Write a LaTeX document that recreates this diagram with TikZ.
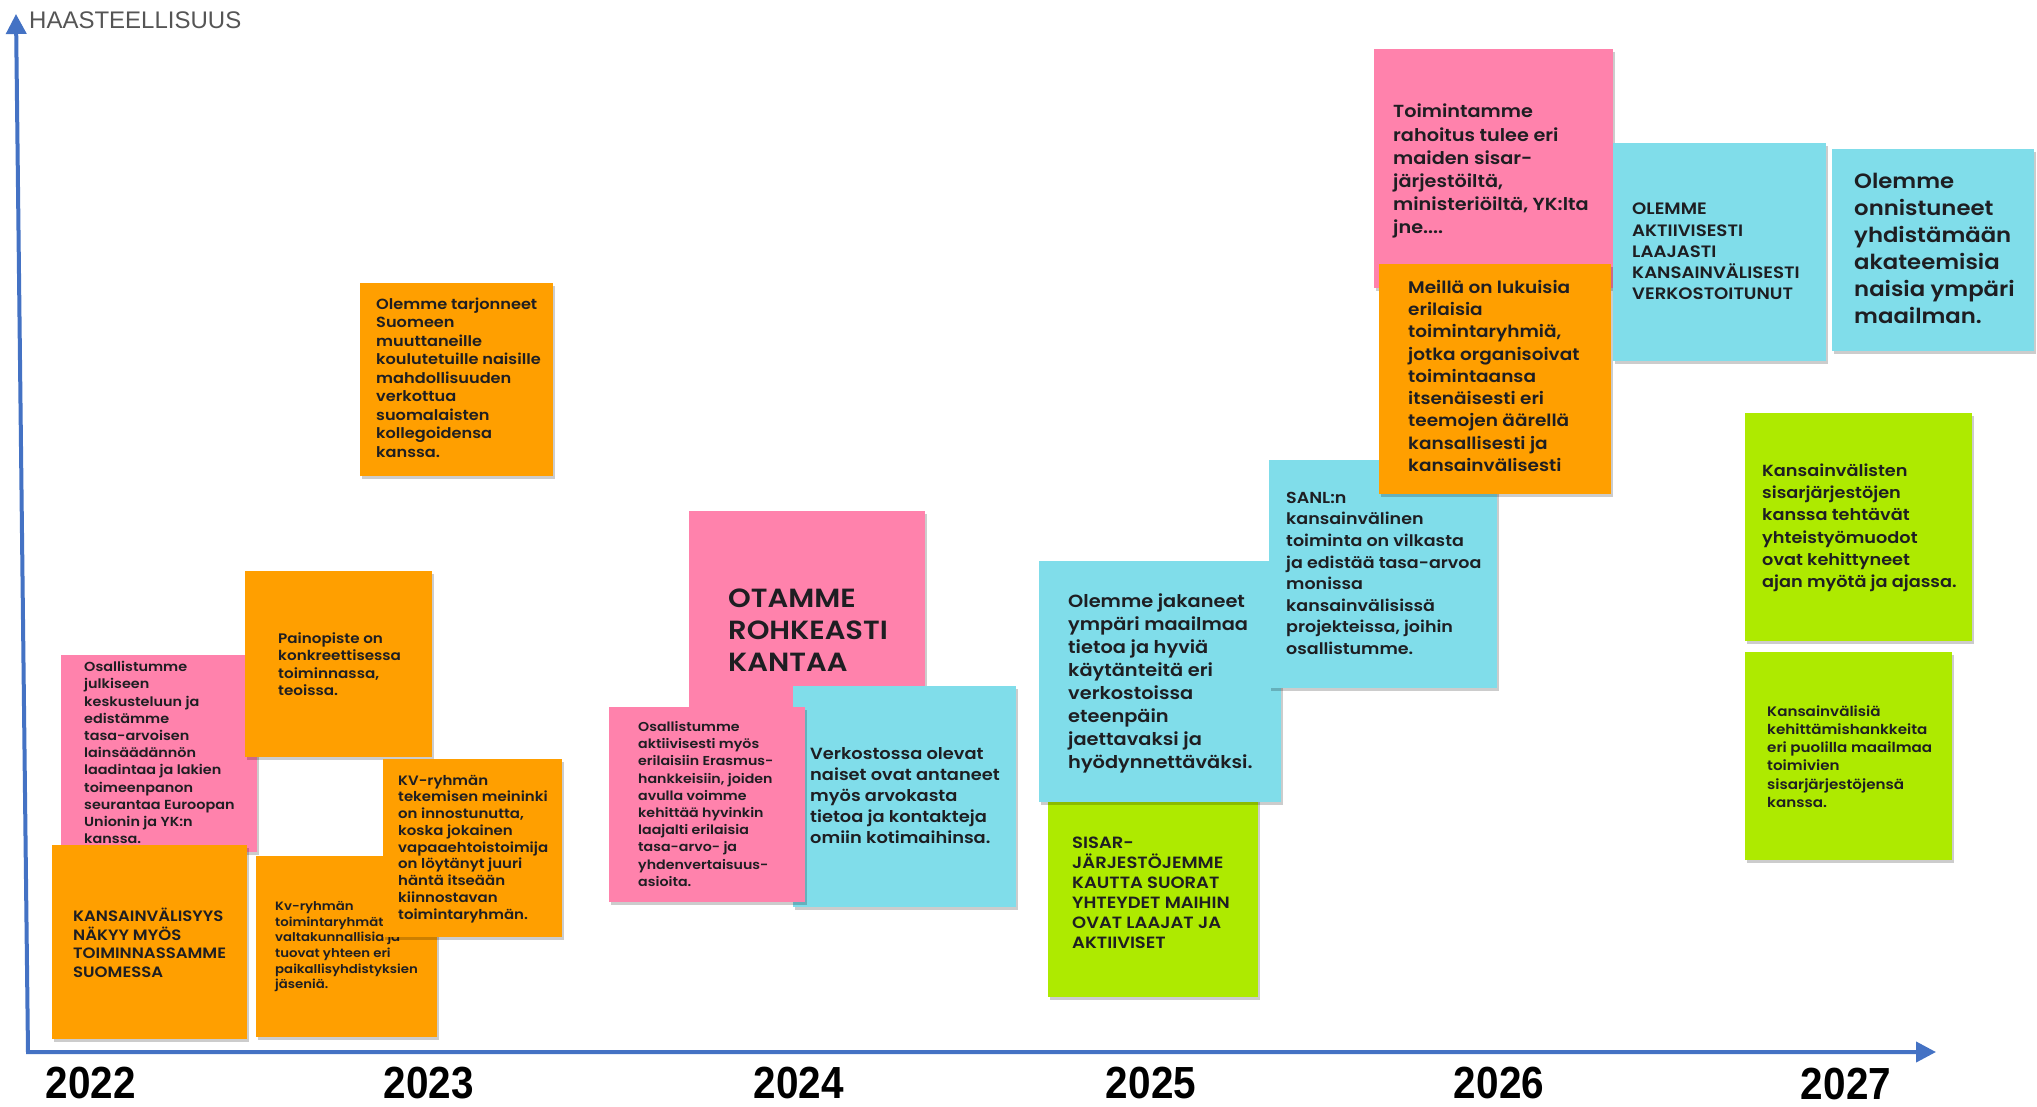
\documentclass[tikz,border=0pt]{standalone}
\usepackage{fontspec}
\usepackage{graphicx}
\usetikzlibrary{shadows,arrows.meta}
\setmainfont{Liberation Sans}
\newfontfamily\geo{Poppins SemiBold}[FakeStretch=1.1]
\definecolor{pinkc}{HTML}{FF82AC}
\definecolor{orangec}{HTML}{FF9F00}
\definecolor{cyanc}{HTML}{80DDEA}
\definecolor{greenc}{HTML}{AEEA00}
\definecolor{axisc}{HTML}{4472C4}
\definecolor{txtc}{HTML}{1E1E22}
\definecolor{graytxt}{HTML}{555555}
\newcommand\firstl{\rule{0pt}{0.95em}}
\tikzset{
  stick/.style={anchor=north west, inner sep=0pt, draw=none,
    drop shadow={shadow xshift=2pt, shadow yshift=-3pt, opacity=0.2, fill=black}},
  stxt/.style={anchor=north west, inner sep=0pt, align=left, text=txtc},
  axisline/.style={draw=axisc, line width=4pt, line join=miter},
  yearlbl/.style={anchor=base, inner sep=0pt, text=black,
    font=\fontsize{45}{45}\selectfont\bfseries},
}
\begin{document}
\begin{tikzpicture}[x=1pt,y=-1pt]
\useasboundingbox[fill=white] (0,0) rectangle (2037,1106);

% axes
\coordinate (ytop) at (16,14);
\coordinate (orig) at (28,1052);
\coordinate (xend) at (1936,1052);
\draw[axisline, {Triangle[length=20pt,width=20pt]}-{Triangle[length=20pt,width=20pt]}]
  (ytop) -- (orig) -- (xend);
\node[anchor=base west, inner sep=0pt, text=graytxt, font=\fontsize{24}{24}\selectfont]
  (ylab) at (29,28) {HAASTEELLISUUS};

% years
\node[yearlbl] (y2022) at (91,1098) {\scalebox{0.9}[1]{2022}};
\node[yearlbl] (y2023) at (429,1098) {\scalebox{0.9}[1]{2023}};
\node[yearlbl] (y2024) at (799,1098) {\scalebox{0.9}[1]{2024}};
\node[yearlbl] (y2025) at (1151,1098) {\scalebox{0.9}[1]{2025}};
\node[yearlbl] (y2026) at (1499,1098) {\scalebox{0.9}[1]{2026}};
\node[yearlbl] (y2027) at (1846,1099) {\scalebox{0.9}[1]{2027}};

% ---- 2022 / 2023 cluster
\node[stick, fill=pinkc, minimum width=196pt, minimum height=197pt] (bA) at (61,655) {};
\node[stxt, font=\geo\fontsize{13.1}{17.2}\selectfont] (tA) at (84,659)
  {\firstl Osallistumme\\julkiseen\\keskusteluun ja\\edistämme\\tasa-arvoisen\\lainsäädännön\\laadintaa ja lakien\\toimeenpanon\\seurantaa Euroopan\\Unionin ja YK:n\\kanssa.};

\node[stick, fill=orangec, minimum width=187pt, minimum height=186pt] (bB) at (245,571) {};
\node[stxt, font=\geo\fontsize{13.8}{17.5}\selectfont] (tB) at (278,630)
  {\firstl Painopiste on\\konkreettisessa\\toiminnassa,\\teoissa.};

\node[stick, fill=orangec, minimum width=195pt, minimum height=194pt] (bE) at (52,845) {};
\node[stxt, font=\geo\fontsize{15}{18.7}\selectfont] (tE) at (73,907)
  {\firstl KANSAINVÄLISYYS\\NÄKYY MYÖS\\TOIMINNASSAMME\\SUOMESSA};

\node[stick, fill=orangec, minimum width=181pt, minimum height=181pt] (bC) at (256,856) {};
\node[stxt, font=\geo\fontsize{12.1}{15.6}\selectfont] (tC) at (275,899)
  {\firstl Kv-ryhmän\\toimintaryhmät ovat\\valtakunnallisia ja\\tuovat yhteen eri\\paikallisyhdistyksien\\jäseniä.};

\node[stick, fill=orangec, minimum width=179pt, minimum height=178pt] (bD) at (383,759) {};
\node[stxt, font=\geo\fontsize{13.6}{16.75}\selectfont] (tD) at (398,772)
  {\firstl KV-ryhmän\\tekemisen meininki\\on innostunutta,\\koska jokainen\\vapaaehtoistoimija\\on löytänyt juuri\\häntä itseään\\kiinnostavan\\toimintaryhmän.};

\node[stick, fill=orangec, minimum width=193pt, minimum height=193pt] (bF) at (360,283) {};
\node[stxt, font=\geo\fontsize{14.7}{18.5}\selectfont] (tF) at (376,295)
  {\firstl Olemme tarjonneet\\Suomeen\\muuttaneille\\koulutetuille naisille\\mahdollisuuden\\verkottua\\suomalaisten\\kollegoidensa\\kanssa.};

% ---- 2024 cluster
\node[stick, fill=pinkc, minimum width=236pt, minimum height=234pt] (bG) at (689,511) {};
\node[stxt, font=\geo\fontsize{26.3}{32}\selectfont] (tG) at (728,582)
  {\firstl OTAMME\\ROHKEASTI\\KANTAA};

\node[stick, fill=cyanc, minimum width=223pt, minimum height=221pt] (bI) at (793,686) {};
\node[stxt, font=\geo\fontsize{16.2}{21}\selectfont] (tI) at (810,744)
  {\firstl Verkostossa olevat\\naiset ovat antaneet\\myös arvokasta\\tietoa ja kontakteja\\omiin kotimaihinsa.};

\node[stick, fill=pinkc, minimum width=196pt, minimum height=195pt] (bH) at (609,707) {};
\node[stxt, font=\geo\fontsize{12.9}{17.2}\selectfont] (tH) at (638,719)
  {\firstl Osallistumme\\aktiivisesti myös\\erilaisiin Erasmus-\\hankkeisiin, joiden\\avulla voimme\\kehittää hyvinkin\\laajalti erilaisia\\tasa-arvo- ja\\yhdenvertaisuus-\\asioita.};

% ---- 2025 / 2026 cluster
\node[stick, fill=greenc, minimum width=210pt, minimum height=207pt] (bK) at (1048,790) {};
\node[stxt, font=\geo\fontsize{16.3}{20}\selectfont] (tK) at (1072,833)
  {\firstl SISAR-\\JÄRJESTÖJEMME\\KAUTTA SUORAT\\YHTEYDET MAIHIN\\OVAT LAAJAT JA\\AKTIIVISET};

\node[stick, fill=cyanc, minimum width=242pt, minimum height=241pt] (bJ) at (1039,561) {};
\node[stxt, font=\geo\fontsize{17.6}{22.9}\selectfont] (tJ) at (1068,591)
  {\firstl Olemme jakaneet\\ympäri maailmaa\\tietoa ja hyviä\\käytänteitä eri\\verkostoissa\\eteenpäin\\jaettavaksi ja\\hyödynnettäväksi.};

\node[stick, fill=cyanc, minimum width=228pt, minimum height=228pt] (bL) at (1269,460) {};
\node[stxt, font=\geo\fontsize{15.9}{21.6}\selectfont] (tL) at (1286,488)
  {\firstl SANL:n\\kansainvälinen\\toiminta on vilkasta\\ja edistää tasa-arvoa\\monissa\\kansainvälisissä\\projekteissa, joihin\\osallistumme.};

\node[stick, fill=pinkc, minimum width=239pt, minimum height=239pt] (bM) at (1374,49) {};
\node[stxt, font=\geo\fontsize{17.5}{23.2}\selectfont] (tM) at (1393,101)
  {\firstl Toimintamme\\rahoitus tulee eri\\maiden sisar-\\järjestöiltä,\\ministeriöiltä, YK:lta\\jne....};

\node[stick, fill=orangec, minimum width=232pt, minimum height=230pt] (bN) at (1379,264) {};
\node[stxt, font=\geo\fontsize{16.8}{22.3}\selectfont] (tN) at (1408,277)
  {\firstl Meillä on lukuisia\\erilaisia\\toimintaryhmiä,\\jotka organisoivat\\toimintaansa\\itsenäisesti eri\\teemojen äärellä\\kansallisesti ja\\kansainvälisesti};

\node[stick, fill=cyanc, minimum width=213pt, minimum height=218pt] (bO) at (1613,143) {};
\node[stxt, font=\geo\fontsize{16.5}{21.2}\selectfont] (tO) at (1632,199)
  {\firstl OLEMME\\AKTIIVISESTI\\LAAJASTI\\KANSAINVÄLISESTI\\VERKOSTOITUNUT};

\node[stick, fill=cyanc, minimum width=202pt, minimum height=202pt] (bP) at (1832,149) {};
\node[stxt, font=\geo\fontsize{20.7}{27}\selectfont] (tP) at (1854,169)
  {\firstl Olemme\\onnistuneet\\yhdistämään\\akateemisia\\naisia ympäri\\maailman.};

% ---- 2027 cluster
\node[stick, fill=greenc, minimum width=227pt, minimum height=228pt] (bQ) at (1745,413) {};
\node[stxt, font=\geo\fontsize{16.1}{22.2}\selectfont] (tQ) at (1762,461)
  {\firstl Kansainvälisten\\sisarjärjestöjen\\kanssa tehtävät\\yhteistyömuodot\\ovat kehittyneet\\ajan myötä ja ajassa.};

\node[stick, fill=greenc, minimum width=207pt, minimum height=208pt] (bR) at (1745,652) {};
\node[stxt, font=\geo\fontsize{13.75}{18.2}\selectfont] (tR) at (1767,703)
  {\firstl Kansainvälisiä\\kehittämishankkeita\\eri puolilla maailmaa\\toimivien\\sisarjärjestöjensä\\kanssa.};
\end{tikzpicture}
\end{document}
